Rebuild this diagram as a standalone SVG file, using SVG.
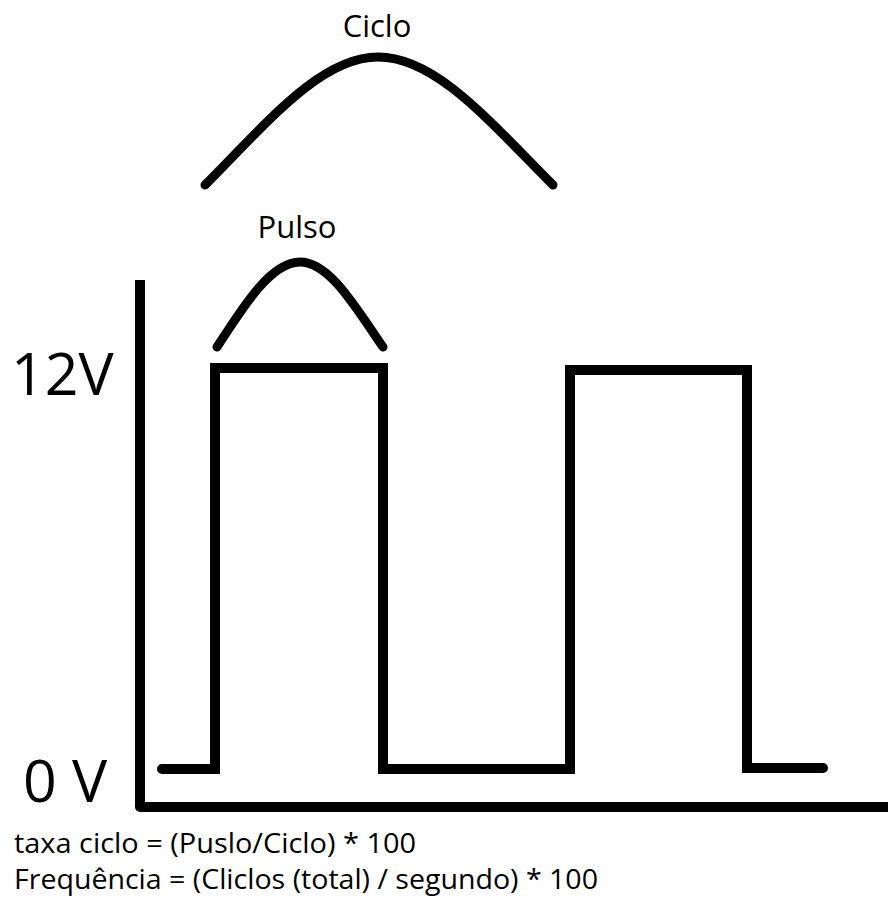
<svg xmlns="http://www.w3.org/2000/svg" width="888" height="898" viewBox="0 0 888 898">
  <style>
    .label { font-family: "Open Sans", "Liberation Sans", sans-serif; fill: #000; }
    .wave { fill: none; stroke: #000; stroke-width: 10; stroke-linejoin: miter; stroke-linecap: round; }
    .axis { fill: none; stroke: #000; stroke-width: 10; stroke-linejoin: round; stroke-linecap: butt; }
    .span { fill: none; stroke: #000; stroke-width: 9; stroke-linecap: round; stroke-linejoin: round; }
  </style>
  <rect width="888" height="898" fill="#fff"/>

  <!-- Axes -->
  <g id="axes">
    <polyline class="axis" points="140,280 140,807 888,807"/>
  </g>

  <!-- Square wave -->
  <g id="signal">
    <path class="wave" d="M162,769 L215,769 L215,368 L383,368 L383,769 L570,769 L570,370 L747,370 L747,768 L823,768"/>
  </g>

  <!-- Span brackets -->
  <g id="cycle-span">
    <path class="span" d="M205,185 C265,125 320,57 378,57 C436,57 490,122 553,185"/>
    <text class="label" x="377" y="37" font-size="31" text-anchor="middle">Ciclo</text>
  </g>
  <g id="pulse-span">
    <path class="span" d="M217,347 C246,302 272,262 300,262 C329,262 354,305 383,347"/>
    <text class="label" x="297" y="238" font-size="31" text-anchor="middle">Pulso</text>
  </g>

  <!-- Level labels -->
  <g id="level-high">
    <text class="label" x="11" y="395" font-size="59">12V</text>
  </g>
  <g id="level-low">
    <text class="label" x="23" y="802" font-size="59">0 V</text>
  </g>

  <!-- Formulas -->
  <g id="formulas">
    <text class="label" x="14" y="853" font-size="28" textLength="402" lengthAdjust="spacingAndGlyphs">taxa ciclo = (Puslo/Ciclo) * 100</text>
    <text class="label" x="14" y="889" font-size="28" textLength="584" lengthAdjust="spacingAndGlyphs">Frequência = (Cliclos (total) / segundo) * 100</text>
  </g>
</svg>
